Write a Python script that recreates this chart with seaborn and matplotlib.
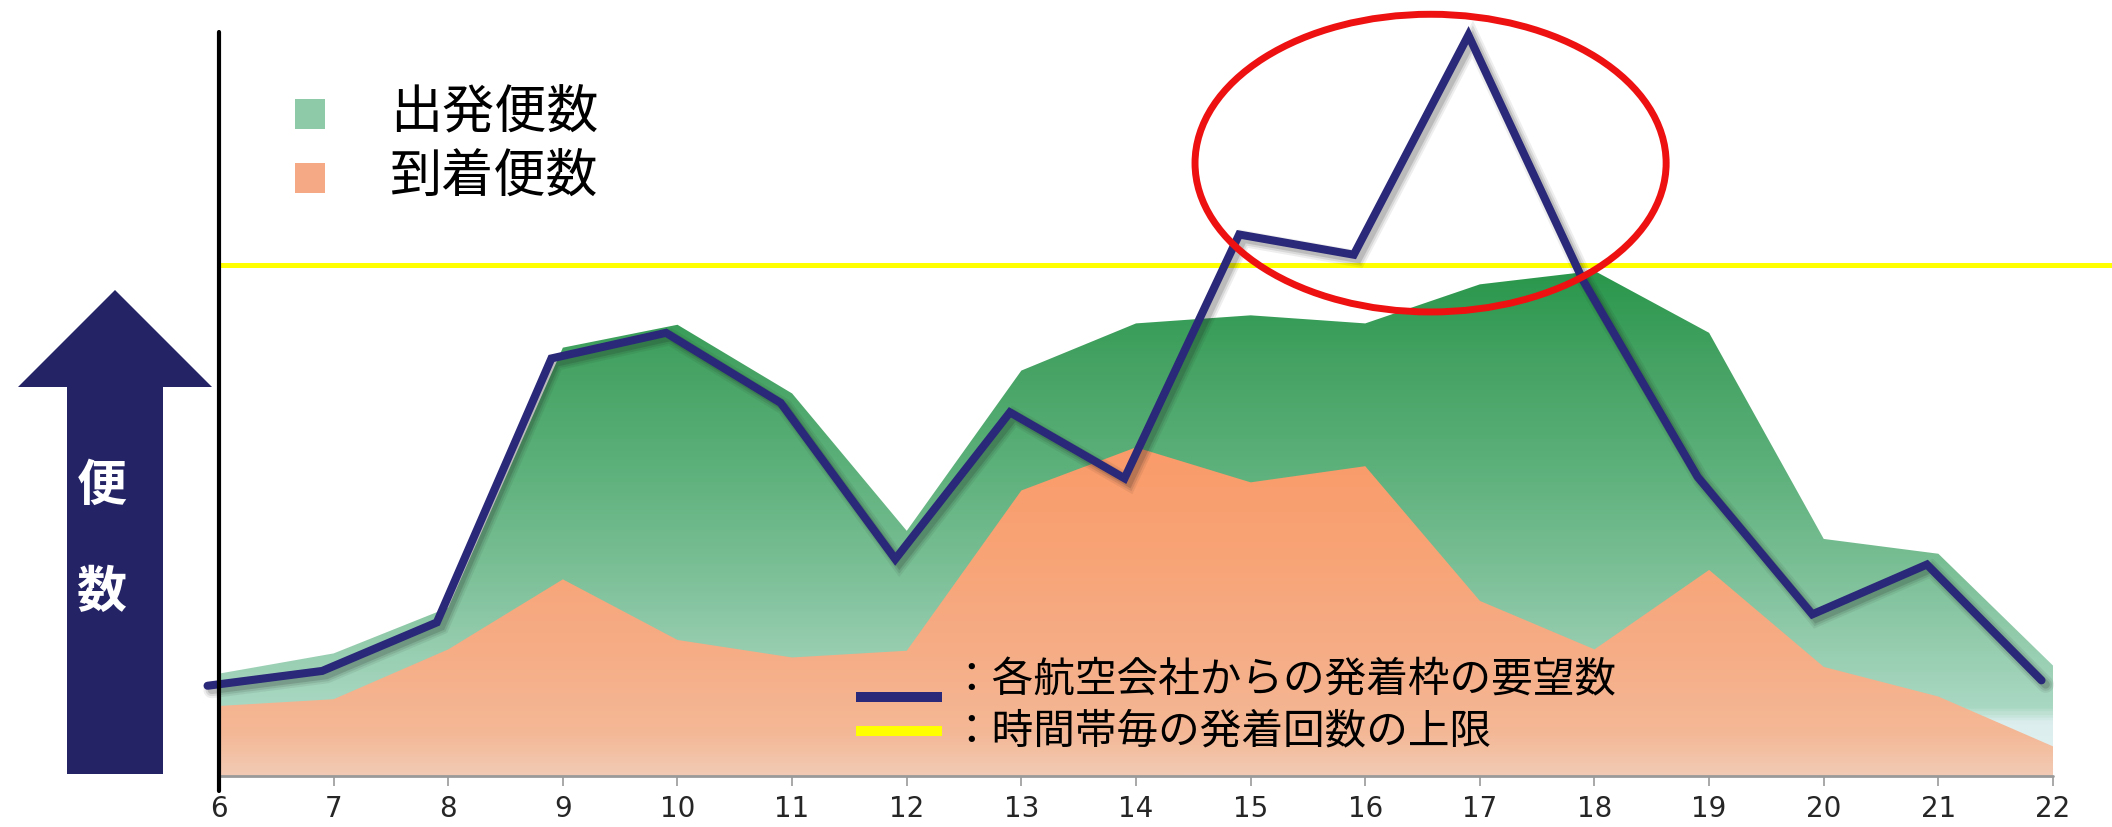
import numpy as np
import pandas as pd
import matplotlib
matplotlib.use("Agg")
import matplotlib.pyplot as plt
import matplotlib.patheffects as pe
import seaborn as sns
from matplotlib.colors import LinearSegmentedColormap
from matplotlib.patches import PathPatch, Ellipse, Rectangle, Polygon

# --- Data (arbitrary flight-count units) ---
hours = [6, 7, 8, 9, 10, 11, 12, 13, 14, 15, 16, 17, 18, 19, 20, 21, 22]
departures = [7.6, 9.1, 12.5, 31.8, 33.5, 28.4, 18.2, 30.1, 33.6, 34.2, 33.6, 36.5, 37.5, 32.9, 17.6, 16.5, 8.2]
arrivals = [5.2, 5.7, 9.4, 14.6, 10.1, 8.8, 9.3, 21.2, 24.4, 21.8, 23.0, 13.0, 9.4, 15.3, 8.1, 5.9, 2.2]
requests = [6.7, 7.8, 11.4, 31.0, 32.9, 27.7, 16.1, 27.0, 22.1, 40.2, 38.7, 55.0, 36.8, 22.2, 12.0, 15.7, 7.1]
slot_limit = 37.9

label_dep = "出発便数"
label_arr = "到着便数"
label_req = "：各航空会社からの発着枠の要望数"
label_lim = "：時間帯毎の発着回数の上限"

NAVY = "#2a2878"
YELLOW = "#ffff00"
REQ_SHIFT = -0.1   # the request line sits slightly left of the hour ticks
W, H = 2112, 828

sns.set_theme(style="white")
plt.rcParams["font.family"] = ["Noto Sans CJK JP", "DejaVu Sans"]

fig = plt.figure(figsize=(W / 100, H / 100), dpi=100)
# axes: hour 6 at x=219px, 114.6 px per hour; baseline at y=777px
x_left = 6 - 19 / 114.6
x_right = 22 + 59 / 114.6
y_top = 777 / 13.47
ax = fig.add_axes([200 / W, (H - 777) / H, 1 - 200 / W, 777 / H])
ax.set_xlim(x_left, x_right)
ax.set_ylim(0, y_top)


def px(x, y):
    return x / W, 1 - y / H


def gradient_area(ax, x, y, stops, zorder):
    poly = ax.fill_between(x, 0, y, facecolor="none", edgecolor="none")
    patch = PathPatch(poly.get_paths()[0], transform=ax.transData,
                      facecolor="none", edgecolor="none")
    ax.add_patch(patch)
    cmap = LinearSegmentedColormap.from_list(
        "g", [(v / y_top, c) for v, c in stops])
    grad = np.linspace(0, y_top, 600).reshape(-1, 1)
    im = ax.imshow(grad, extent=[x_left, x_right, 0, y_top], origin="lower",
                   aspect="auto", cmap=cmap, vmin=0, vmax=y_top, zorder=zorder)
    im.set_clip_path(patch)


green_stops = [(0, "#e4f2f2"), (3.8, "#dceeee"), (5.0, "#a9d8c2"), (9, "#98ceb1"),
               (15, "#7cc097"), (23, "#5cb07a"), (31, "#44a262"), (38, "#27964a"),
               (y_top, "#27964a")]
orange_stops = [(0, "#f2cab4"), (3, "#f4b896"), (9, "#f6ad86"), (16, "#f8a477"),
                (25, "#fa9a68"), (y_top, "#fa9a68")]

gradient_area(ax, hours, departures, green_stops, zorder=1)
gradient_area(ax, hours, arrivals, orange_stops, zorder=2)
ax.set_xlim(x_left, x_right)
ax.set_ylim(0, y_top)

# yellow limit line, from the vertical axis to the right edge
ax.plot([6, x_right], [slot_limit, slot_limit], color=YELLOW, lw=3.6, zorder=3)

# requested slots line with soft shadow
df = pd.DataFrame({"hour": [h + REQ_SHIFT for h in hours], "requests": requests})
sns.lineplot(data=df, x="hour", y="requests", ax=ax, color=NAVY, lw=5.8,
             zorder=5, legend=False)
line = ax.lines[-1]
line.set_solid_capstyle("round")
line.set_solid_joinstyle("miter")
line.set_path_effects([
    pe.SimpleLineShadow(offset=(3, -3), shadow_color="k", alpha=0.07, linewidth=12),
    pe.SimpleLineShadow(offset=(3, -3), shadow_color="k", alpha=0.10, linewidth=9),
    pe.SimpleLineShadow(offset=(3, -3), shadow_color="k", alpha=0.15, linewidth=6),
    pe.Normal(),
])

# red highlight ellipse
ax.add_patch(Ellipse((16.57, 45.5), 4.11, 22.1, fill=False, edgecolor="#ee1111",
                     lw=5, zorder=6, clip_on=False))

# axes
for s in ax.spines.values():
    s.set_visible(False)
ax.plot([6, 22], [0, 0], color="#9a9a9a", lw=2, zorder=4, clip_on=False)
ax.plot([6, 6], [-1.1, 55.2], color="black", lw=3, zorder=7, clip_on=False)
ax.set_xticks(hours)
ax.set_xticklabels([str(h) for h in hours], family=["Liberation Sans Narrow", "DejaVu Sans"],
                   fontsize=20)
ax.tick_params(axis="x", bottom=True, length=7, width=1.2, color="#9a9a9a", pad=6)
ax.set_yticks([])
ax.set_xlabel("")
ax.set_ylabel("")
ax.grid(False)

# top-left legend
fig.add_artist(Rectangle(px(295, 130), 30 / W, 30 / H, transform=fig.transFigure,
                         facecolor="#8fcaa8", edgecolor="none"))
fig.add_artist(Rectangle(px(295, 194), 30 / W, 30 / H, transform=fig.transFigure,
                         facecolor="#f6a985", edgecolor="none"))
fig.text(*px(390, 114), label_dep, fontsize=37.5, va="center", ha="left", color="black")
fig.text(*px(390, 178), label_arr, fontsize=37.5, va="center", ha="left", color="black")

# bottom legend
fig.add_artist(Rectangle(px(856, 703), 86 / W, 10 / H, transform=fig.transFigure,
                         facecolor=NAVY, edgecolor="none", zorder=8))
fig.add_artist(Rectangle(px(856, 737), 86 / W, 10 / H, transform=fig.transFigure,
                         facecolor=YELLOW, edgecolor="none", zorder=8))
fig.text(*px(950, 681), label_req, fontsize=30, va="center", ha="left", color="black", zorder=8)
fig.text(*px(950, 732), label_lim, fontsize=30, va="center", ha="left", color="black", zorder=8)

# big arrow with 便数
arrow_pts = [px(67, 775), px(67, 388), px(18, 388), px(115, 291),
             px(212, 388), px(163, 388), px(163, 775)]
fig.add_artist(Polygon(arrow_pts, closed=True, transform=fig.transFigure,
                       facecolor="#232366", edgecolor="none"))
fig.text(*px(102, 486), "便", fontsize=36, fontweight="bold", color="white",
         ha="center", va="center")
fig.text(*px(102, 592), "数", fontsize=36, fontweight="bold", color="white",
         ha="center", va="center")

fig.savefig("out.png", dpi=100)
